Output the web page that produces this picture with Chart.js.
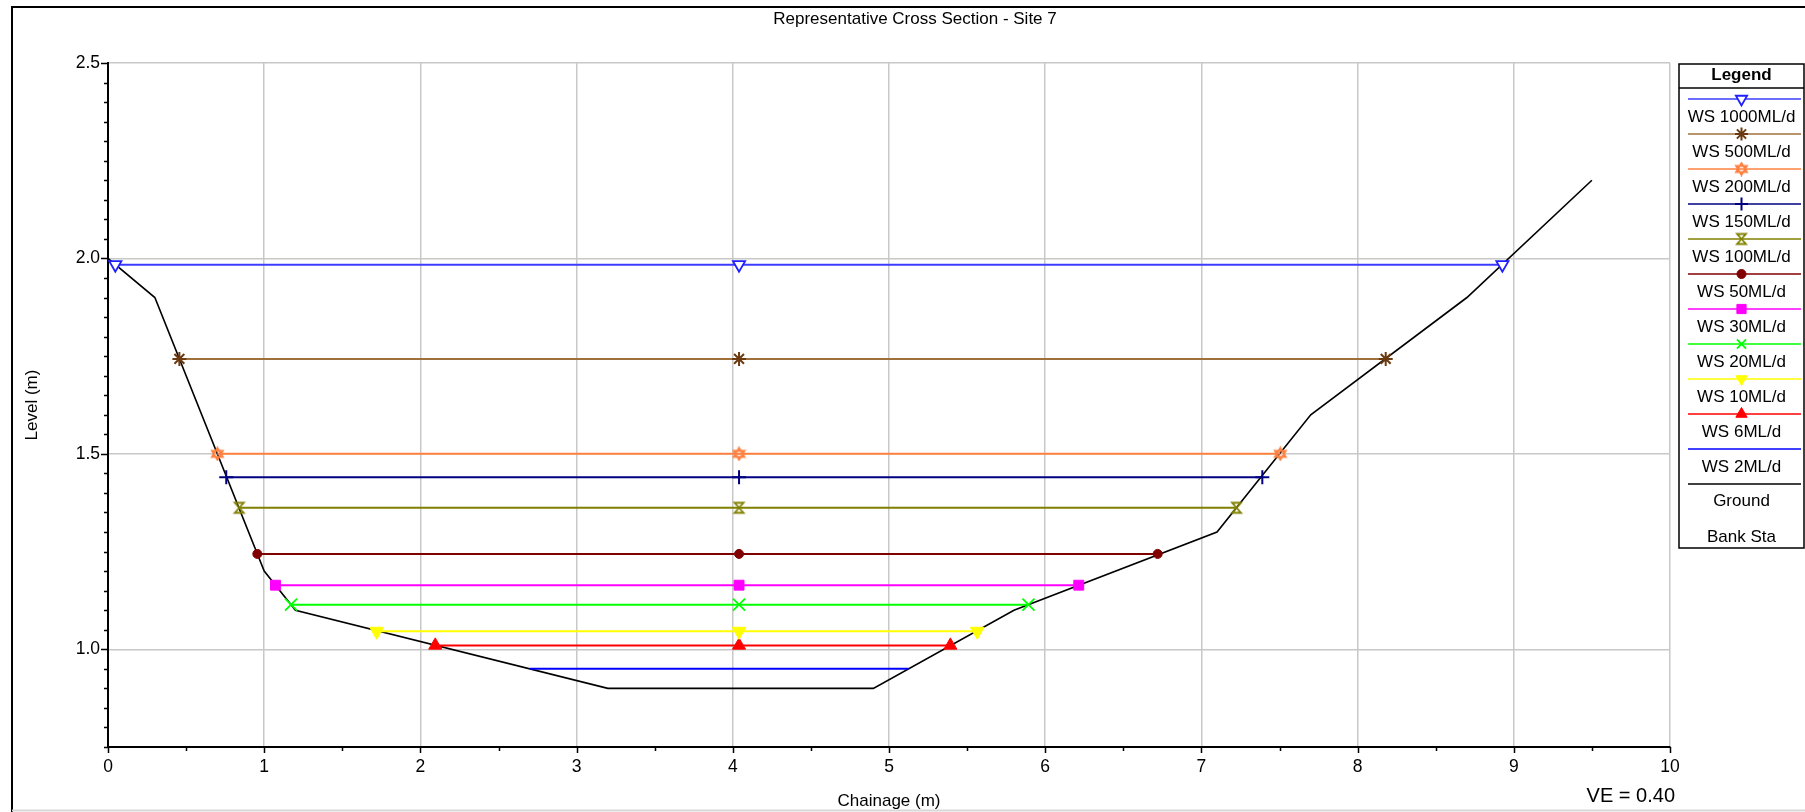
<!DOCTYPE html>
<html>
<head>
<meta charset="utf-8">
<title>Representative Cross Section - Site 7</title>
<script src="https://cdn.jsdelivr.net/npm/chart.js@4.4.1/dist/chart.umd.min.js"></script>
<style>
  html, body { margin: 0; padding: 0; background: #fff; }
  #wrap { position: relative; width: 1805px; height: 812px; }
</style>
</head>
<body>
<div id="wrap"><canvas id="xsChart"></canvas></div>
<script>
// Water surface profiles (level in m, left / right bank intercepts in m)
const wsNames = ['WS 1000ML/d', 'WS 500ML/d', 'WS 200ML/d', 'WS 150ML/d', 'WS 100ML/d', 'WS 50ML/d',
  'WS 30ML/d', 'WS 20ML/d', 'WS 10ML/d', 'WS 6ML/d', 'WS 2ML/d'];
const wsLevels = [1.984, 1.743, 1.50, 1.44, 1.362, 1.244, 1.164, 1.114, 1.046, 1.010, 0.95];
const wsLeftX = [0.047, 0.457, 0.70, 0.757, 0.84, 0.956, 1.072, 1.172, 1.72, 2.095, 2.70];
const wsRightX = [8.927, 8.18, 7.505, 7.39, 7.225, 6.72, 6.215, 5.893, 5.565, 5.393, 5.125];
const wsMidX = 4.04;

// Ground profile
const groundX = [0, 0.3, 1.0, 1.2, 3.2, 4.9, 5.8, 7.1, 7.7, 8.7, 9.5];
const groundLevel = [2.0, 1.9, 1.2, 1.1, 0.9, 0.9, 1.1, 1.3, 1.6, 1.9, 2.2];

// Axis labels
const xTickLabels = ['0', '1', '2', '3', '4', '5', '6', '7', '8', '9', '10'];
const yTickLabels = ['1.0', '1.5', '2.0', '2.5'];

// Styles
const wsColors = ['#3c3cff', '#a0703c', '#ff8040', '#000080', '#808000', '#800000',
  '#ff00ff', '#00ff00', '#ffff00', '#ff0000', '#0000ff'];
const wsPointColors = ['#2020ff', '#6b3a10', '#ff8040', '#000080', '#808000', '#800000',
  '#ff00ff', '#00ff00', '#ffff00', '#ff0000', '#0000ff'];

function makeMarker(kind, color) {
  const c = document.createElement('canvas');
  c.width = 15;
  c.height = 15;
  const g = c.getContext('2d');
  g.strokeStyle = color;
  g.lineWidth = 1.8;
  g.beginPath();
  if (kind === 'hexagram') {
    g.moveTo(7.5, 1.5); g.lineTo(13, 10.5); g.lineTo(2, 10.5); g.closePath();
    g.moveTo(7.5, 13.5); g.lineTo(13, 4.5); g.lineTo(2, 4.5); g.closePath();
  } else {
    g.moveTo(3, 2.5); g.lineTo(12, 2.5); g.lineTo(3, 12.5); g.lineTo(12, 12.5); g.closePath();
  }
  g.stroke();
  return c;
}

const wsMarkers = ['triangle', 'star', makeMarker('hexagram', '#ff8040'), 'cross',
  makeMarker('hourglass', '#808000'), 'circle', 'rect', 'crossRot', 'triangle', 'triangle', 'circle'];
const wsRotation = [180, 0, 0, 0, 0, 0, 0, 0, 180, 0, 0];
const wsRadius = [7, 7, 7, 7, 7, 4.5, 7, 8.5, 8, 7.5, 0];
const wsFill = ['#ffffff', '#6b3a10', '#ff8040', '#000080', '#808000', '#800000',
  '#ff00ff', '#00ff00', '#ffff00', '#ff0000', '#0000ff'];
const wsBorderW = [1.8, 2, 1.5, 2, 1.5, 1, 1, 1.8, 1, 1, 1];

const FONT = 'Liberation Sans, Arial, sans-serif';

function isStep(v, step) {
  return Math.abs(v / step - Math.round(v / step)) < 1e-6;
}

// Datasets
const datasets = wsNames.map((name, i) => ({
  label: name,
  data: [
    { x: wsLeftX[i], y: wsLevels[i] },
    { x: wsMidX, y: wsLevels[i] },
    { x: wsRightX[i], y: wsLevels[i] }
  ],
  showLine: true,
  borderColor: wsColors[i],
  borderWidth: 2,
  pointStyle: wsMarkers[i],
  rotation: wsRotation[i],
  pointRadius: wsRadius[i],
  pointBackgroundColor: wsFill[i],
  pointBorderColor: wsPointColors[i],
  pointBorderWidth: wsBorderW[i]
}));

datasets.push({
  label: 'Ground',
  data: groundX.map((x, i) => ({ x: x, y: groundLevel[i] })),
  showLine: true,
  borderColor: '#000000',
  borderWidth: 1.6,
  pointRadius: 0
});

// Frame, title, tick marks, VE note and legend box
const decorPlugin = {
  id: 'decor',
  afterDraw(chart) {
    const ctx = chart.ctx;
    const xs = chart.scales.x;
    const ys = chart.scales.y;
    const area = chart.chartArea;
    ctx.save();

    // outer frame
    ctx.strokeStyle = '#000';
    ctx.lineWidth = 2;
    ctx.beginPath();
    ctx.moveTo(12, 812); ctx.lineTo(12, 7); ctx.lineTo(1805, 7);
    ctx.stroke();
    ctx.strokeStyle = '#d8d8d8';
    ctx.beginPath();
    ctx.moveTo(12, 810.5); ctx.lineTo(1805, 810.5);
    ctx.stroke();

    // tick marks
    ctx.strokeStyle = '#000';
    ctx.lineWidth = 1.5;
    ctx.beginPath();
    ys.ticks.forEach(t => {
      const py = Math.round(ys.getPixelForValue(t.value)) + 0.5;
      const len = isStep(t.value, 0.5) ? 7 : 4;
      ctx.moveTo(area.left, py); ctx.lineTo(area.left - len, py);
    });
    xs.ticks.forEach(t => {
      const px = Math.round(xs.getPixelForValue(t.value)) + 0.5;
      const len = isStep(t.value, 1) ? 6 : 4;
      ctx.moveTo(px, area.bottom); ctx.lineTo(px, area.bottom + len);
    });
    ctx.stroke();

    // title
    ctx.fillStyle = '#000';
    ctx.font = '17px ' + FONT;
    ctx.textAlign = 'center';
    ctx.textBaseline = 'middle';
    ctx.fillText('Representative Cross Section - Site 7', 915, 19);

    // vertical exaggeration
    ctx.font = '20px ' + FONT;
    ctx.textAlign = 'right';
    ctx.fillText('VE = 0.40', 1675, 796);

    // legend box
    const lx = 1679, lw = 125, ly = 64, lh = 484;
    const cx = lx + lw / 2;
    ctx.fillStyle = '#fff';
    ctx.fillRect(lx, ly, lw, lh);
    ctx.strokeStyle = '#000';
    ctx.lineWidth = 1.5;
    ctx.strokeRect(lx, ly, lw, lh);
    ctx.beginPath();
    ctx.moveTo(lx, 88); ctx.lineTo(lx + lw, 88);
    ctx.stroke();

    ctx.fillStyle = '#000';
    ctx.textAlign = 'center';
    ctx.font = 'bold 17px ' + FONT;
    ctx.fillText('Legend', cx, 75);

    ctx.font = '17px ' + FONT;
    wsNames.forEach((name, i) => {
      const y = 99 + i * 35;
      ctx.strokeStyle = wsColors[i];
      ctx.lineWidth = 1.5;
      ctx.beginPath();
      ctx.moveTo(lx + 9, y); ctx.lineTo(lx + lw - 3, y);
      ctx.stroke();
      if (wsRadius[i] > 0) {
        ctx.fillStyle = wsFill[i];
        ctx.strokeStyle = wsPointColors[i];
        ctx.lineWidth = wsBorderW[i];
        Chart.helpers.drawPoint(ctx, {
          pointStyle: wsMarkers[i],
          rotation: wsRotation[i],
          radius: Math.min(wsRadius[i], 6.5),
          borderWidth: wsBorderW[i]
        }, cx, y);
      }
      ctx.fillStyle = '#000';
      ctx.fillText(name, cx, y + 18.5);
    });
    const gy = 99 + wsNames.length * 35;
    ctx.strokeStyle = '#000';
    ctx.lineWidth = 1.5;
    ctx.beginPath();
    ctx.moveTo(lx + 9, gy); ctx.lineTo(lx + lw - 3, gy);
    ctx.stroke();
    ctx.fillText('Ground', cx, gy + 17);
    ctx.fillText('Bank Sta', cx, gy + 53);

    ctx.restore();
  }
};

new Chart(document.getElementById('xsChart'), {
  type: 'scatter',
  data: { datasets: datasets },
  plugins: [decorPlugin],
  options: {
    responsive: true,
    maintainAspectRatio: false,
    animation: false,
    events: [],
    layout: { padding: { left: 0, top: 63, right: 135, bottom: 0 } },
    plugins: {
      legend: { display: false },
      tooltip: { enabled: false }
    },
    scales: {
      x: {
        type: 'linear',
        min: 0,
        max: 10,
        afterFit: s => { s.height = 65; },
        border: { color: '#000', width: 2 },
        grid: {
          drawTicks: false,
          lineWidth: 1.5,
          color: c => isStep(c.tick.value, 1) ? '#c8c8c8' : 'rgba(0,0,0,0)'
        },
        ticks: {
          stepSize: 0.5,
          autoSkip: false,
          maxRotation: 0,
          padding: 10,
          color: '#000',
          font: { family: FONT, size: 17.5 },
          callback: v => isStep(v, 1) ? xTickLabels[Math.round(v)] : ''
        },
        title: {
          display: true,
          text: 'Chainage (m)',
          color: '#000',
          font: { family: FONT, size: 17 },
          padding: { top: 0, bottom: 0 }
        }
      },
      y: {
        type: 'linear',
        min: 0.75,
        max: 2.5,
        afterFit: s => { s.width = 108; },
        border: { color: '#000', width: 2 },
        grid: {
          drawTicks: false,
          lineWidth: 1.5,
          color: c => isStep(c.tick.value, 0.5) ? '#c8c8c8' : 'rgba(0,0,0,0)'
        },
        ticks: {
          stepSize: 0.05,
          autoSkip: false,
          padding: 8,
          color: '#000',
          font: { family: FONT, size: 17.5 },
          callback: v => isStep(v, 0.5) ? yTickLabels[Math.round((v - 1) / 0.5)] : ''
        },
        title: {
          display: true,
          text: 'Level (m)',
          color: '#000',
          font: { family: FONT, size: 17 },
          padding: { top: 22, bottom: 0 }
        }
      }
    }
  }
});
</script>
</body>
</html>
